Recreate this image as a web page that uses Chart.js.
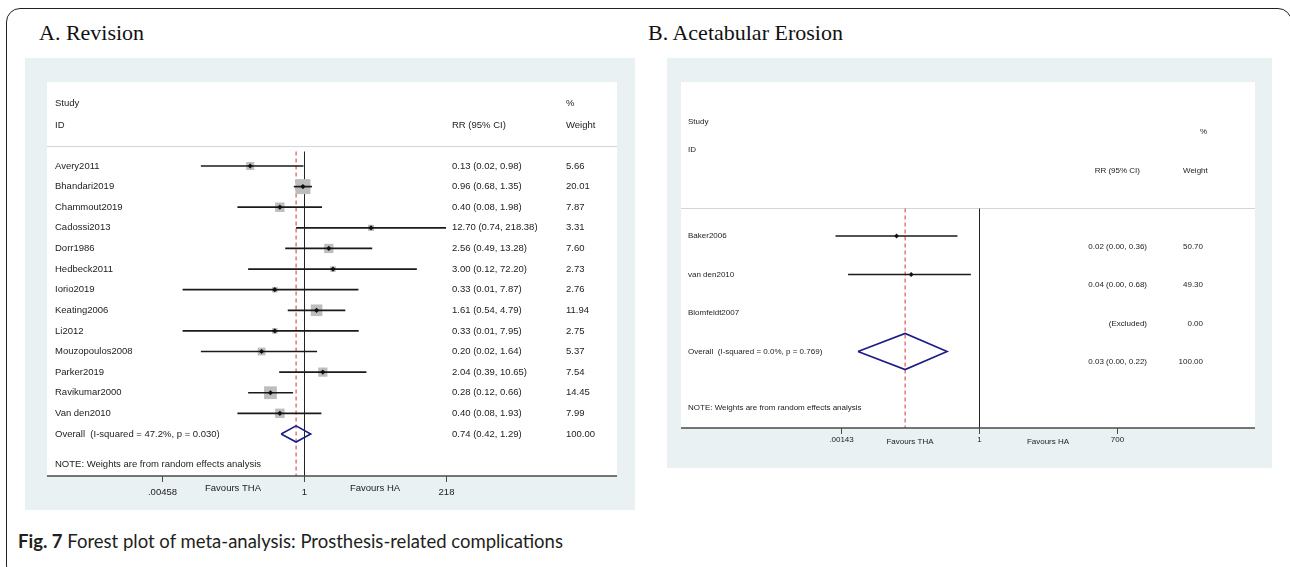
<!DOCTYPE html>
<html>
<head>
<meta charset="utf-8">
<script src="https://cdn.jsdelivr.net/npm/chart.js@4.4.0/dist/chart.umd.min.js"></script>
<style>
  html, body { margin: 0; padding: 0; background: #fff; }
  body { width: 1290px; height: 567px; position: relative; overflow: hidden; }
  #frame { position: absolute; left: 6px; top: 8px; width: 1286px; height: 572px;
           border: 1.5px solid #222; border-radius: 14px; box-sizing: border-box; }
  .title { position: absolute; font-family: "Liberation Serif", "Times New Roman", serif;
           font-size: 22px; color: #111; line-height: 24px; white-space: nowrap; }
  .panel { position: absolute; background: #e9f1f3; }
  .panel canvas { display: block; }
  #caption { position: absolute; left: 18px; top: 528px; font-family: Lato, "Open Sans", sans-serif;
             font-size: 18.5px; color: #231f20; line-height: 26px; white-space: nowrap; }
</style>
</head>
<body>
<div id="frame"></div>
<div class="title" style="left:39px;top:21px;">A. Revision</div>
<div class="title" style="left:648px;top:21px;">B. Acetabular Erosion</div>
<div class="panel" style="left:25px;top:58px;width:610px;height:452px;"><canvas id="plotA" width="610" height="452"></canvas></div>
<div class="panel" style="left:667px;top:58px;width:605px;height:410px;"><canvas id="plotB" width="605" height="410"></canvas></div>
<div id="caption"><b>Fig. 7</b> Forest plot of meta-analysis: Prosthesis-related complications</div>

<script>
// ---- A. Revision ----
const studiesA = ['Avery2011', 'Bhandari2019', 'Chammout2019', 'Cadossi2013', 'Dorr1986', 'Hedbeck2011',
  'Iorio2019', 'Keating2006', 'Li2012', 'Mouzopoulos2008', 'Parker2019', 'Ravikumar2000', 'Van den2010'];
const rrA     = [0.13, 0.96, 0.40, 12.70, 2.56, 3.00, 0.33, 1.61, 0.33, 0.20, 2.04, 0.28, 0.40];
const lowA    = [0.02, 0.68, 0.08, 0.74, 0.49, 0.12, 0.01, 0.54, 0.01, 0.02, 0.39, 0.12, 0.08];
const highA   = [0.98, 1.35, 1.98, 218.38, 13.28, 72.20, 7.87, 4.79, 7.95, 1.64, 10.65, 0.66, 1.93];
const weightA = [5.66, 20.01, 7.87, 3.31, 7.60, 2.73, 2.76, 11.94, 2.75, 5.37, 7.54, 14.45, 7.99];
const overallA = { label: 'Overall  (I-squared = 47.2%, p = 0.030)', rr: 0.74, low: 0.42, high: 1.29, weight: 100.00 };
const tickValuesA = [0.00458, 1, 218];
const tickLabelsA = ['.00458', '1', '218'];

// ---- B. Acetabular Erosion ----
const studiesB = ['Baker2006', 'van den2010', 'Blomfeldt2007'];
const rrB      = [0.02, 0.04, null];
const lowB     = [0.0011, 0.0020, null];
const highB    = [0.36, 0.68, null];
const weightB  = [50.70, 49.30, 0.00];
const overallB = { label: 'Overall  (I-squared = 0.0%, p = 0.769)', rr: 0.03, low: 0.0032, high: 0.22, weight: 100.00 };
const tickValuesB = [0.00143, 1, 700];
const tickLabelsB = ['.00143', '1', '700'];

const favourLabels = ['Favours THA', 'Favours HA'];
const noteText = 'NOTE: Weights are from random effects analysis';

const fmt = v => v.toFixed(2);
const ciText = (r, l, h) => r == null ? '(Excluded)' : `${fmt(r)} (${fmt(l)}, ${fmt(h)})`;

function forestPlot(canvasId, o) {
  const n = o.studies.length;
  const rows = o.studies.map((_, i) => i);
  const valid = rows.filter(i => o.rr[i] != null);
  const oRow = n;

  const ciData = valid.flatMap(i => [{ x: o.low[i], y: i }, { x: o.high[i], y: i }]);
  const dotData = valid.map(i => ({ x: o.rr[i], y: i }));
  const sqData = valid.map(i => ({ x: o.rr[i], y: i, w: o.weight[i] }));
  const ov = o.overall;
  const dh = o.diamondHalf;
  const diamond = [
    { x: ov.low, y: oRow }, { x: ov.rr, y: oRow - dh }, { x: ov.high, y: oRow },
    { x: ov.rr, y: oRow + dh }, { x: ov.low, y: oRow }
  ];

  const datasets = [
    { data: dotData, showLine: false, pointStyle: 'rectRot', pointRadius: o.dotRadius,
      backgroundColor: '#111', borderWidth: 0 },
    { data: ciData, showLine: true, pointRadius: 0, borderColor: '#1a1a1a', borderWidth: o.ciWidth,
      segment: { borderColor: c => c.p0.parsed.y === c.p1.parsed.y ? '#1a1a1a' : 'rgba(0,0,0,0)' } },
    { data: diamond, showLine: true, pointRadius: 0, borderColor: '#1c1c86', borderWidth: 1.6, fill: false, tension: 0 }
  ];
  if (o.squares) {
    datasets.push({ data: sqData, showLine: false, pointStyle: 'rect',
      pointRadius: c => o.squareScale * Math.sqrt(c.raw.w / 20) / Math.SQRT2,
      backgroundColor: '#bdbdbd', borderWidth: 0 });
  }
  datasets.forEach(d => { d.clip = false; });

  const font = `${o.fontSize}px "Liberation Sans", Arial, sans-serif`;

  const decor = {
    id: 'forestDecor',
    beforeDatasetsDraw(chart) {
      const { ctx, scales: { x, y } } = chart;
      ctx.save();
      // white plot region
      ctx.fillStyle = '#ffffff';
      ctx.fillRect(o.white.left, o.white.top, o.white.right - o.white.left, o.axisY - o.white.top);
      // header separator
      const sy = Math.round(y.getPixelForValue(o.sepRow)) + 0.5;
      ctx.strokeStyle = '#d2d6d8';
      ctx.lineWidth = 1;
      ctx.beginPath(); ctx.moveTo(o.white.left, sy); ctx.lineTo(o.white.right, sy); ctx.stroke();
      // line of no effect
      const x1 = Math.round(x.getPixelForValue(1)) + 0.5;
      ctx.strokeStyle = '#222';
      ctx.lineWidth = 1;
      ctx.beginPath(); ctx.moveTo(x1, sy + o.refGap); ctx.lineTo(x1, o.axisY); ctx.stroke();
      // pooled estimate
      const xr = x.getPixelForValue(ov.rr);
      ctx.strokeStyle = '#d0343e';
      ctx.setLineDash([4, 3]);
      ctx.beginPath(); ctx.moveTo(xr, sy + o.refGap); ctx.lineTo(xr, o.axisY); ctx.stroke();
      ctx.restore();
    },
    afterDatasetsDraw(chart) {
      const { ctx, scales: { x, y } } = chart;
      ctx.save();
      ctx.font = font;
      ctx.fillStyle = '#222';
      ctx.textBaseline = 'middle';
      const yp = v => y.getPixelForValue(v);
      const col = o.cols;
      const put = (t, px, py, align) => { ctx.textAlign = align; ctx.fillText(t, px, py); };

      // headers
      put('Study', col.name, yp(o.head.study), 'left');
      put('ID', col.name, yp(o.head.id), 'left');
      put('RR (95% CI)', col.rrHead, yp(o.head.rr), col.rrAlign);
      put('%', col.pct, yp(o.head.pct), 'left');
      put('Weight', col.wHead, yp(o.head.rr), col.wHeadAlign);

      // study rows
      o.studies.forEach((s, i) => {
        put(s, col.name, yp(i), 'left');
        put(ciText(o.rr[i], o.low[i], o.high[i]), col.rr, yp(i + o.valShift), col.rrAlign);
        put(fmt(o.weight[i]), col.w, yp(i + o.valShift), col.wAlign);
      });
      put(ov.label, col.name, yp(oRow), 'left');
      put(ciText(ov.rr, ov.low, ov.high), col.rr, yp(oRow + o.valShift), col.rrAlign);
      put(fmt(ov.weight), col.w, yp(oRow + o.valShift), col.wAlign);
      put(noteText, col.name, yp(o.noteRow), 'left');

      // x axis
      ctx.strokeStyle = '#4a4a4a';
      ctx.lineWidth = 1.5;
      ctx.beginPath(); ctx.moveTo(o.white.left, o.axisY); ctx.lineTo(o.white.right, o.axisY); ctx.stroke();
      ctx.lineWidth = 1;
      o.tickValues.forEach((v, k) => {
        const px = Math.round(x.getPixelForValue(v)) + 0.5;
        ctx.beginPath(); ctx.moveTo(px, o.axisY); ctx.lineTo(px, o.axisY + 6); ctx.stroke();
        put(o.tickLabels[k], px, o.axisY + o.tickLabelGap, 'center');
      });
      const t = o.tickValues;
      const mid = (a, b) => x.getPixelForValue(Math.sqrt(a * b));
      put(favourLabels[0], mid(t[0], t[1]), o.axisY + o.favGap, 'center');
      put(favourLabels[1], mid(t[1], t[2]), o.axisY + o.favGap, 'center');
      ctx.restore();
    }
  };

  return new Chart(document.getElementById(canvasId), {
    type: 'scatter',
    data: { datasets },
    options: {
      responsive: false, animation: false, events: [],
      layout: { padding: o.padding },
      plugins: { legend: { display: false }, tooltip: { enabled: false } },
      scales: {
        x: { type: 'logarithmic', min: o.tickValues[0], max: o.tickValues[2], display: false },
        y: { type: 'linear', min: o.yMin, max: o.yMax, reverse: true, display: false }
      }
    },
    plugins: [decor]
  });
}

forestPlot('plotA', {
  studies: studiesA, rr: rrA, low: lowA, high: highA, weight: weightA, overall: overallA,
  tickValues: tickValuesA, tickLabels: tickLabelsA,
  padding: { left: 137, right: 189, top: 24, bottom: 34 },
  yMin: -4.075, yMax: 15.04,
  white: { left: 22, right: 592, top: 24 }, axisY: 418,
  head: { study: -3.06, id: -1.99, rr: -1.99, pct: -3.06 },
  sepRow: -0.97, noteRow: 14.5, valShift: 0, refGap: 5,
  cols: { name: 30, rr: 427, rrHead: 427, rrAlign: 'left', w: 541, wAlign: 'left', wHead: 541, wHeadAlign: 'left', pct: 541 },
  fontSize: 9.5, squares: true, squareScale: 15, dotRadius: 2.6, ciWidth: 1.7, diamondHalf: 0.39,
  tickLabelGap: 16, favGap: 12
});

forestPlot('plotB', {
  studies: studiesB, rr: rrB, low: lowB, high: highB, weight: weightB, overall: overallB,
  tickValues: tickValuesB, tickLabels: tickLabelsB,
  padding: { left: 174, right: 155, top: 24, bottom: 40 },
  yMin: -4.0, yMax: 4.987,
  white: { left: 14, right: 588, top: 24 }, axisY: 370,
  head: { study: -2.96, id: -2.23, rr: -1.69, pct: -2.70 },
  sepRow: -0.73, noteRow: 4.47, valShift: 0.27, refGap: 0,
  cols: { name: 21, rr: 480, rrHead: 473, rrAlign: 'right', w: 536, wAlign: 'right', wHead: 516, wHeadAlign: 'left', pct: 533 },
  fontSize: 8, squares: false, dotRadius: 2.4, ciWidth: 1.6, diamondHalf: 0.47,
  tickLabelGap: 12, favGap: 14
});
</script>
</body>
</html>
